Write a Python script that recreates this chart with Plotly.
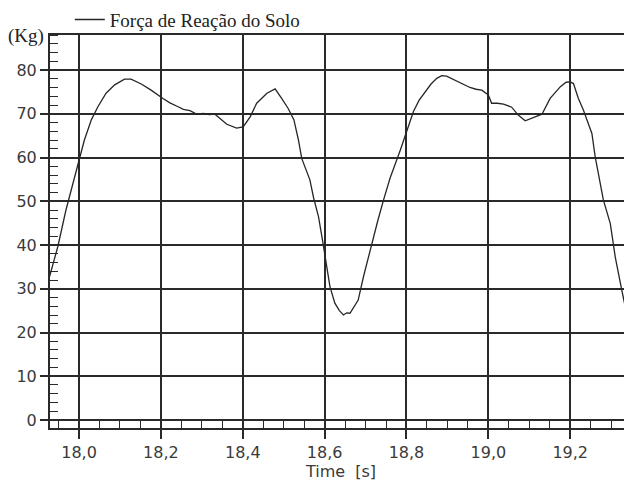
import plotly.graph_objects as go

# Time (s) and ground reaction force (Kg)
time_s = [17.928, 17.948, 17.968, 17.985, 18.001, 18.013, 18.030, 18.046, 18.066, 18.087,
          18.111, 18.127, 18.152, 18.176, 18.205, 18.222, 18.242, 18.255, 18.271, 18.287,
          18.304, 18.318, 18.332, 18.344, 18.361, 18.385, 18.401, 18.418, 18.434, 18.459,
          18.479, 18.495, 18.511, 18.525, 18.536, 18.544, 18.554, 18.564, 18.573, 18.585,
          18.595, 18.605, 18.613, 18.625, 18.636, 18.646, 18.654, 18.662, 18.672, 18.682,
          18.695, 18.715, 18.730, 18.744, 18.760, 18.785, 18.800, 18.817, 18.831, 18.846,
          18.860, 18.874, 18.886, 18.898, 18.912, 18.927, 18.942, 18.955, 18.970, 18.984,
          19.000, 19.008, 19.022, 19.037, 19.057, 19.073, 19.090, 19.110, 19.131, 19.151,
          19.176, 19.190, 19.200, 19.208, 19.220, 19.232, 19.241, 19.253, 19.261, 19.281,
          19.298, 19.310, 19.326, 19.338, 19.348, 19.356]
force_kg = [32.8, 39.6, 48.0, 54.1, 59.8, 64.0, 68.6, 71.6, 74.7, 76.6,
            77.9, 77.9, 76.8, 75.4, 73.5, 72.5, 71.6, 71.0, 70.7, 69.9,
            70.1, 69.8, 69.9, 69.0, 67.6, 66.7, 67.0, 69.3, 72.4, 74.7,
            75.7, 73.5, 71.2, 68.6, 64.0, 59.8, 57.4, 54.9, 50.8, 46.5,
            41.0, 34.5, 30.5, 26.7, 25.0, 24.0, 24.5, 24.4, 25.8, 27.4,
            32.8, 40.4, 45.6, 50.3, 55.3, 61.7, 66.0, 70.5, 73.1, 75.0,
            76.8, 78.1, 78.7, 78.6, 78.0, 77.3, 76.6, 76.0, 75.6, 75.4,
            74.3, 72.4, 72.4, 72.2, 71.5, 69.7, 68.4, 69.2, 69.9, 73.5,
            76.2, 77.2, 77.3, 76.9, 73.5, 70.9, 68.6, 65.5, 60.2, 50.3,
            44.9, 37.3, 29.7, 24.4, 19.8, 17.5]

series_name = "Força de Reação do Solo"
x_title = "Time\u00a0\u00a0[s]"
y_unit = "(Kg)"

grid_col = "#2a2a2a"
tick_font = dict(family="DejaVu Sans", size=16, color="#3a3a3a")

fig = go.Figure()
fig.add_trace(go.Scatter(x=time_s, y=force_kg, mode="lines", name=series_name,
                         line=dict(color="#262626", width=1.3), showlegend=True))

# the page body adds an 8px offset, so the figure is 8px smaller on each axis
fig.update_layout(
    width=624, height=475,
    margin=dict(l=42, r=0, t=27, b=55, autoexpand=False),
    paper_bgcolor="white", plot_bgcolor="white",
    separators=",.",
    showlegend=True,
    legend=dict(x=0.034, xanchor="left", y=1.039, yanchor="middle",
                orientation="h", bgcolor="rgba(0,0,0,0)",
                font=dict(family="Liberation Serif", size=19, color="#222")),
    xaxis=dict(range=[17.929, 19.351], tick0=18.0, dtick=0.2, tickformat=".1f",
               showgrid=True, gridcolor=grid_col, gridwidth=1.6,
               showline=True, linecolor=grid_col, linewidth=2, mirror=True,
               ticks="outside", ticklen=9, tickcolor=grid_col, tickwidth=1.6,
               minor=dict(dtick=0.05, tick0=18.0, ticks="inside", ticklen=8,
                          tickcolor=grid_col, tickwidth=1.2, showgrid=False),
               tickfont=tick_font, zeroline=False,
               title=dict(text=x_title, font=tick_font, standoff=0)),
    yaxis=dict(range=[-1.83, 88.0], tick0=0, dtick=10,
               showgrid=True, gridcolor=grid_col, gridwidth=1.6,
               showline=True, linecolor=grid_col, linewidth=2, mirror=False,
               ticks="outside", ticklen=8, tickcolor=grid_col, tickwidth=1.6,
               minor=dict(dtick=2, tick0=0, ticks="inside", ticklen=8,
                          tickcolor=grid_col, tickwidth=1.2, showgrid=False),
               tickfont=tick_font, zeroline=True, zerolinecolor=grid_col, zerolinewidth=1.6),
    annotations=[dict(text=y_unit, xref="paper", yref="paper", x=0, y=1.0,
                      xanchor="right", yanchor="middle", xshift=-4, yshift=-1, showarrow=False,
                      font=dict(family="Liberation Serif", size=19, color="#222"))],
)

fig.write_html("out.html")
